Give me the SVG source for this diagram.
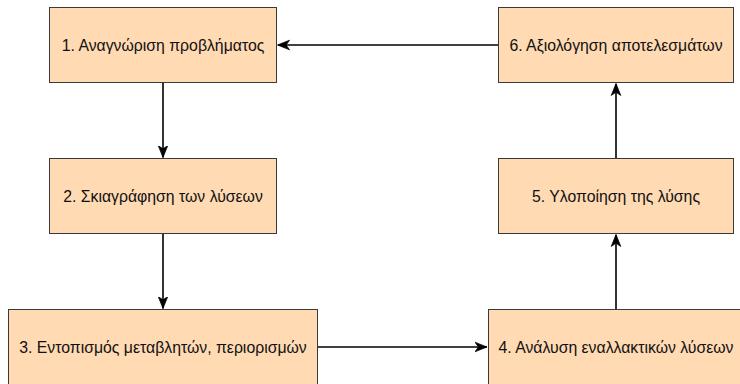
<svg xmlns="http://www.w3.org/2000/svg" width="740" height="384" viewBox="0 0 740 384">
  <style>
    .box { fill: #ffdab3; stroke: #3a3a3a; stroke-width: 1; }
    .label { font-family: "Liberation Sans", Arial, Helvetica, sans-serif; font-size: 15.8px; fill: #111; text-anchor: middle; dominant-baseline: central; }
    .edge { fill: none; stroke: #000; stroke-width: 1.6; }
  </style>
  <defs>
    <marker id="arrow" markerUnits="userSpaceOnUse" markerWidth="12" markerHeight="12" viewBox="0 0 10 10" refX="10" refY="5" orient="auto">
      <path d="M0,1 L10,5 L0,9 L2.8,5 Z" fill="#000" stroke="#000" stroke-width="0.6" stroke-linejoin="miter"/>
    </marker>
  </defs>

  <g id="connectors">
    <path class="edge" d="M163,82.5 L163,157.5" marker-end="url(#arrow)"/>
    <path class="edge" d="M163,233.5 L163,308.5" marker-end="url(#arrow)"/>
    <path class="edge" d="M317.5,347 L487,347" marker-end="url(#arrow)"/>
    <path class="edge" d="M616,309.5 L616,234.5" marker-end="url(#arrow)"/>
    <path class="edge" d="M616,158.5 L616,83.5" marker-end="url(#arrow)"/>
    <path class="edge" d="M498.5,45 L277.5,45" marker-end="url(#arrow)"/>
  </g>

  <g id="node1">
    <rect class="box" x="49.5" y="7.5" width="227" height="75"/>
    <text class="label" x="163" y="45">1. Αναγνώριση προβλήματος</text>
  </g>
  <g id="node2">
    <rect class="box" x="49.5" y="158.5" width="227" height="75"/>
    <text class="label" x="163" y="196">2. Σκιαγράφηση των λύσεων</text>
  </g>
  <g id="node3">
    <rect class="box" x="8.5" y="309.5" width="309" height="75"/>
    <text class="label" x="163" y="347">3. Εντοπισμός μεταβλητών, περιορισμών</text>
  </g>
  <g id="node4">
    <rect class="box" x="488.5" y="309.5" width="255" height="75"/>
    <text class="label" x="616" y="347">4. Ανάλυση εναλλακτικών λύσεων</text>
  </g>
  <g id="node5">
    <rect class="box" x="498.5" y="158.5" width="235" height="75"/>
    <text class="label" x="616" y="196">5. Υλοποίηση της λύσης</text>
  </g>
  <g id="node6">
    <rect class="box" x="498.5" y="7.5" width="235" height="75"/>
    <text class="label" x="616" y="45">6. Αξιολόγηση αποτελεσμάτων</text>
  </g>
</svg>
